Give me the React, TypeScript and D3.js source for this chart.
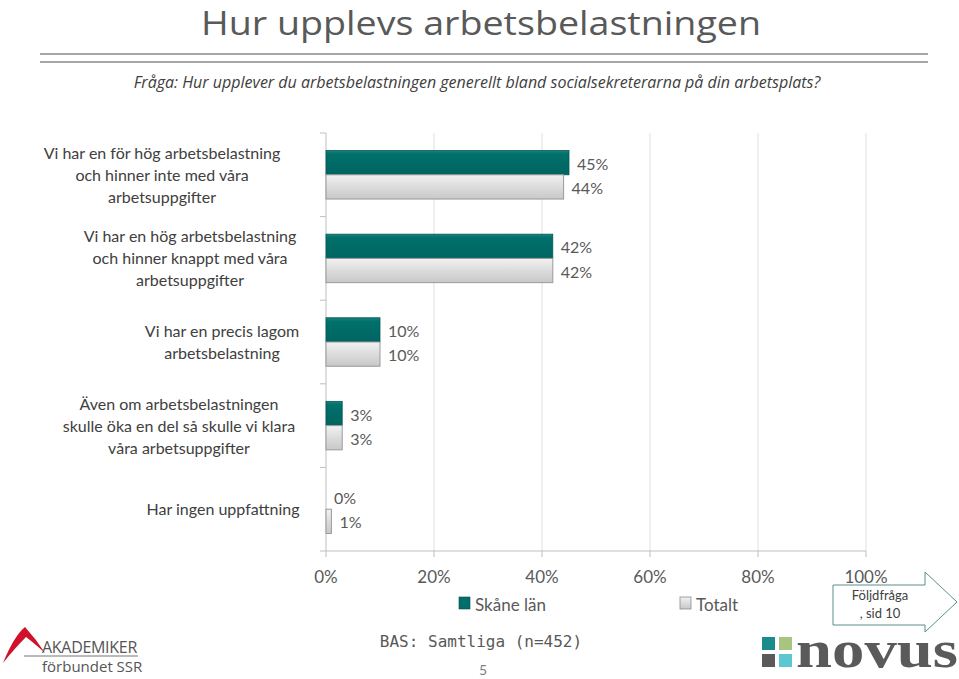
import React from "react";
import * as d3 from "d3";

const categories: string[][] = [
  ["Vi har en för hög arbetsbelastning", "och hinner inte med våra", "arbetsuppgifter"],
  ["Vi har en hög arbetsbelastning", "och hinner knappt med våra", "arbetsuppgifter"],
  ["Vi har en precis lagom", "arbetsbelastning"],
  ["Även om arbetsbelastningen", "skulle öka en del så skulle vi klara", "våra arbetsuppgifter"],
  ["Har ingen uppfattning"],
];
const skane: number[] = [45, 42, 10, 3, 0];
const totalt: number[] = [44, 42, 10, 3, 1];
const xTicks: number[] = [0, 20, 40, 60, 80, 100];
const seriesNames: string[] = ["Skåne län", "Totalt"];

const labelCenters = [162, 190, 222, 179, 223];

const W = 959;
const H = 679;
const FONT = "Lato, 'Open Sans', sans-serif";
const TEAL = "#006f6b";

export default function App() {
  const x = d3.scaleLinear().domain([0, 100]).range([326, 866]);
  const y = d3
    .scaleBand<number>()
    .domain(categories.map((_, i) => i))
    .range([133, 551])
    .padding(0);
  const bw = y.bandwidth();
  const barH = bw * 0.29;

  return (
    <svg
      width={W}
      height={H}
      style={{ position: "absolute", left: 0, top: 0, display: "block", background: "#fff" }}
      fontFamily={FONT}
    >
      <defs>
        <linearGradient id="gGray" x1="0" y1="0" x2="0" y2="1">
          <stop offset="0" stopColor="#f2f2f2" />
          <stop offset="0.5" stopColor="#dcdcdc" />
          <stop offset="1" stopColor="#c8c8c8" />
        </linearGradient>
        <linearGradient id="gTeal" x1="0" y1="0" x2="0" y2="1">
          <stop offset="0" stopColor="#1a817c" />
          <stop offset="0.15" stopColor="#00706b" />
          <stop offset="1" stopColor="#006560" />
        </linearGradient>
      </defs>

      {/* Title */}
      <text x={481} y={35} textAnchor="middle" fontSize={33} fill="#595959" fontFamily="'Open Sans', sans-serif" textLength={560} lengthAdjust="spacingAndGlyphs">
        Hur upplevs arbetsbelastningen
      </text>
      <line x1={40} x2={928} y1={54} y2={54} stroke="#a6a6a6" strokeWidth={2} />
      <line x1={40} x2={928} y1={62} y2={62} stroke="#a6a6a6" strokeWidth={2} />
      <text x={477} y={88} textAnchor="middle" fontSize={16} fontStyle="italic" fill="#404040" fontFamily="'Open Sans', sans-serif">
        Fråga: Hur upplever du arbetsbelastningen generellt bland socialsekreterarna på din arbetsplats?
      </text>

      {/* gridlines */}
      {xTicks.slice(1).map((t) => (
        <line key={"g" + t} x1={x(t)} x2={x(t)} y1={133} y2={551} stroke="#e0e0e0" strokeWidth={1} />
      ))}
      {/* axes */}
      <line x1={326} x2={326} y1={133} y2={551} stroke="#bfbfbf" />
      <line x1={326} x2={866} y1={551} y2={551} stroke="#bfbfbf" />
      {categories.map((_, i) => (
        <line key={"ct" + i} x1={320} x2={326} y1={y(i)!} y2={y(i)!} stroke="#bfbfbf" />
      ))}
      <line x1={320} x2={326} y1={551} y2={551} stroke="#bfbfbf" />
      {xTicks.map((t) => (
        <g key={"xt" + t}>
          <line x1={x(t)} x2={x(t)} y1={551} y2={557} stroke="#bfbfbf" />
          <text x={x(t)} y={583} textAnchor="middle" fontSize={17} fill="#595959">
            {t}%
          </text>
        </g>
      ))}

      {/* bars */}
      {categories.map((_, i) => {
        const cy = y(i)! + bw / 2;
        const ty = cy - barH;
        const gy = cy;
        return (
          <g key={"b" + i}>
            {skane[i] > 0 && (
              <rect x={x(0)} y={ty} width={x(skane[i]) - x(0)} height={barH} fill="url(#gTeal)" stroke="#005a56" strokeWidth={0.8} />
            )}
            {totalt[i] > 0 && (
              <rect x={x(0)} y={gy} width={x(totalt[i]) - x(0)} height={barH} fill="url(#gGray)" stroke="#9a9a9a" strokeWidth={1} />
            )}
            <text x={x(skane[i]) + 8} y={ty + barH / 2 + 3} dominantBaseline="middle" fontSize={16} fill="#595959">
              {skane[i]}%
            </text>
            <text x={x(totalt[i]) + 8} y={gy + barH / 2 + 3} dominantBaseline="middle" fontSize={16} fill="#595959">
              {totalt[i]}%
            </text>
          </g>
        );
      })}

      {/* category labels */}
      {categories.map((lines, i) => {
        const cy = y(i)! + bw / 2 + 2;
        const lh = 22;
        const start = cy - ((lines.length - 1) * lh) / 2;
        return (
          <text key={"c" + i} textAnchor="middle" fontSize={16} fill="#404040">
            {lines.map((l, j) => (
              <tspan key={j} x={labelCenters[i]} y={start + j * lh} dominantBaseline="middle">
                {l}
              </tspan>
            ))}
          </text>
        );
      })}

      {/* legend */}
      <rect x={459} y={597} width={11} height={12} fill={TEAL} stroke="#004f4b" strokeWidth={0.6} />
      <text x={475} y={611} fontSize={17} fill="#595959">{seriesNames[0]}</text>
      <rect x={680} y={597} width={11} height={12} fill="url(#gGray)" stroke="#8c8c8c" strokeWidth={0.8} />
      <text x={696} y={611} fontSize={17} fill="#595959">{seriesNames[1]}</text>

      {/* BAS */}
      <text x={481} y={647} textAnchor="middle" fontSize={16} fill="#595959" fontFamily="'DejaVu Sans Mono', monospace">
        BAS: Samtliga (n=452)
      </text>
      <text x={483} y={675} textAnchor="middle" fontSize={14} fill="#7f7f7f">5</text>

      {/* arrow box */}
      <path
        d="M833,585 L925,585 L925,572 L957,602 L925,632 L925,625 L833,625 Z"
        fill="#fff"
        stroke="#5b8e8c"
        strokeWidth={1}
      />
      <text x={880} y={600} textAnchor="middle" fontSize={13} fill="#404040">Följdfråga</text>
      <text x={880} y={618} textAnchor="middle" fontSize={13} fill="#404040">, sid 10</text>

      {/* Akademiker logo */}
      <path d="M3,663 Q14,636 25,627 Q36,639 45,653 Q34,643 26,637 Q15,648 3,663 Z" fill="#d0112b" />
      <text x={42} y={653} fontSize={16} fill="#555" fontFamily="'Open Sans', sans-serif" letterSpacing={-0.3}>AKADEMIKER</text>
      <line x1={24} x2={138} y1={656} y2={656} stroke="#777" strokeWidth={1} />
      <text x={42} y={672} fontSize={15} fill="#555" fontFamily="'Open Sans', sans-serif">förbundet SSR</text>

      {/* Novus logo */}
      <rect x={762} y={637} width={13} height={13} fill="#1b8b8c" />
      <rect x={779} y={637} width={13} height={13} fill="#a9c380" />
      <rect x={762} y={654} width={13} height={13} fill="#5a5a5a" />
      <rect x={779} y={654} width={13} height={13} fill="#5cc6d3" />
      <text x={796} y={667} fontSize={52} fill="#5a5a5a" fontFamily="'Liberation Serif', 'DejaVu Serif', serif" fontWeight="bold" textLength={162} lengthAdjust="spacingAndGlyphs">
        novus
      </text>
    </svg>
  );
}
